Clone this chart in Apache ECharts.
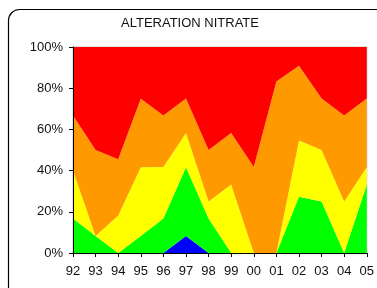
<!DOCTYPE html>
<html>
<head>
<meta charset="utf-8">
<script src="https://cdn.jsdelivr.net/npm/echarts@6/dist/echarts.min.js"></script>
<style>
html,body{margin:0;padding:0;background:#fff;}
#c{width:377px;height:288px;}
</style>
</head>
<body>
<div id="c"></div>
<script>
const categories = ['92','93','94','95','96','97','98','99','00','01','02','03','04','05'];
const blue   = [0, 0, 0, 0, 0, 8.3, 0, 0, 0, 0, 0, 0, 0, 0];
const green  = [16.7, 8.3, 0, 8.3, 16.7, 33.3, 16.7, 0, 0, 0, 27.3, 25, 0, 33.3];
const yellow = [23.3, 0, 18.2, 33.3, 25, 16.7, 8.3, 33.3, 0, 0, 27.3, 25, 25, 8.3];
const orange = [26.7, 41.7, 27.3, 33.3, 25, 16.7, 25, 25, 41.7, 83.3, 36.3, 25, 41.7, 33.4];
const red    = [33.3, 50, 54.5, 25.1, 33.3, 25, 50, 41.7, 58.3, 16.7, 9.1, 25, 33.3, 25];
const yTicks = [0, 20, 40, 60, 80, 100];

const chart = echarts.init(document.getElementById('c'), null, {renderer: 'canvas'});
function area(name, data, color) {
  return {
    name: name, type: 'line', stack: 'total', data: data,
    showSymbol: false, symbol: 'none', smooth: false,
    lineStyle: {width: 0, color: color},
    itemStyle: {color: color},
    areaStyle: {color: color, opacity: 1},
    emphasis: {disabled: true},
    animation: false
  };
}
chart.setOption({
  animation: false,
  backgroundColor: '#fff',
  graphic: [{
    type: 'rect', shape: {x: 8.5, y: 9.5, width: 380, height: 290, r: 11},
    style: {fill: 'none', stroke: '#000', lineWidth: 1.2}, z: 100, silent: true
  }, {
    type: 'text', x: 190, y: 23, silent: true,
    style: {text: 'ALTERATION NITRATE', fill: '#111', font: '13px "Liberation Sans"', align: 'center', verticalAlign: 'middle'}
  }],
  grid: {left: 73, right: 8, top: 47, bottom: 35, show: true, borderColor: '#c8c8c8', borderWidth: 1},
  xAxis: {
    type: 'category', data: categories, boundaryGap: false,
    axisLine: {show: true, lineStyle: {color: '#000', width: 1}},
    axisTick: {show: true, length: 4, lineStyle: {color: '#000'}, alignWithLabel: true},
    axisLabel: {color: '#111', fontFamily: 'Liberation Sans', fontSize: 13, margin: 12, interval: 0},
    splitLine: {show: false}, z: 10
  },
  yAxis: {
    type: 'value', min: yTicks[0], max: yTicks[yTicks.length - 1], interval: 20,
    axisLine: {show: true, lineStyle: {color: '#000', width: 1}},
    axisTick: {show: true, length: 4, lineStyle: {color: '#000'}},
    axisLabel: {color: '#111', fontFamily: 'Liberation Sans', fontSize: 13, margin: 10, formatter: '{value}%'},
    splitLine: {show: false}, z: 10
  },
  series: [
    area('Blue', blue, '#0000ff'),
    area('Green', green, '#00ff00'),
    area('Yellow', yellow, '#ffff00'),
    area('Orange', orange, '#ff9900'),
    area('Red', red, '#ff0000')
  ]
});
</script>
</body>
</html>
